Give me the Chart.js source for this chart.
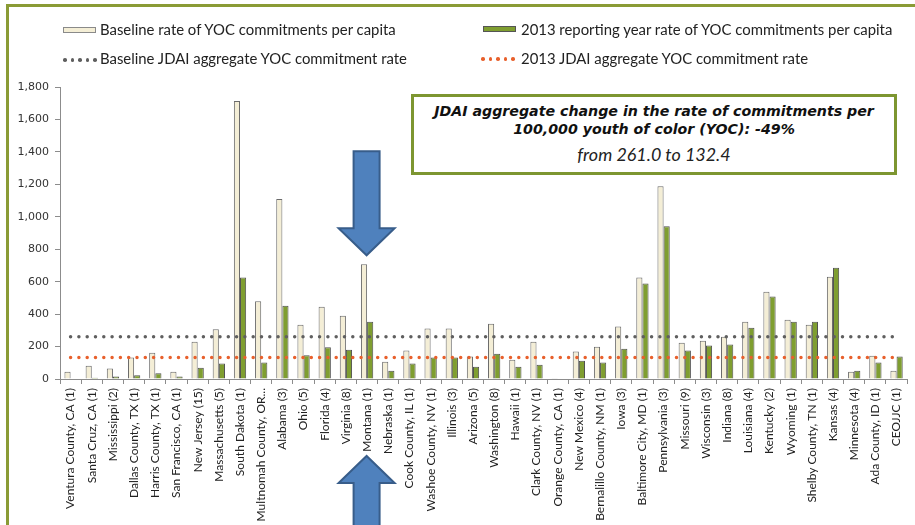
<!DOCTYPE html>
<html>
<head>
<meta charset="utf-8">
<script src="https://cdn.jsdelivr.net/npm/chart.js@4.4.1/dist/chart.umd.min.js"></script>
<style>
  html, body { margin: 0; padding: 0; background: #fff; }
  body { width: 915px; height: 525px; position: relative; overflow: hidden; font-family: Lato, "Open Sans", sans-serif; }
  #frame { position: absolute; left: 6px; top: 4px; width: 1200px; height: 1200px; border: 3px solid #8A9B35; box-sizing: border-box; }
  #wrap { position: absolute; left: 0; top: 0; width: 915px; height: 525px; }
  .leg { position: absolute; font-size: 14.9px; color: #222; white-space: nowrap; line-height: 16px; }
  .sw { position: absolute; width: 33px; height: 6px; box-sizing: border-box; }
  .dots { position: absolute; display: flex; gap: 4px; }
  .dots span { width: 3.5px; height: 3.5px; border-radius: 50%; display: block; }
  #note { position: absolute; left: 411px; top: 94px; width: 486px; height: 81px; border: 3px solid #7D9631; box-sizing: border-box; background: #fff; text-align: center; color: #111; }
  #note .l1 { position: absolute; left: 0; right: 0; top: 5px; font-family: "DejaVu Sans", Verdana, sans-serif; font-weight: bold; font-style: italic; font-size: 14.2px; line-height: 18px; }
  #note .l2 { position: absolute; left: 0; right: 0; top: 47px; font-family: Lato, sans-serif; font-style: italic; font-size: 17.9px; line-height: 20px; color: #222; }
</style>
</head>
<body>
<div id="frame"></div>
<div id="wrap"><canvas id="c" width="915" height="525"></canvas></div>

<div class="sw" style="left:63px; top:27px; background:#F4EED6; border:1px solid #8a8a8a;"></div>
<div class="leg" style="left:100px; top:21px;">Baseline rate of YOC commitments per capita</div>
<div class="sw" style="left:483px; top:26px; background:#7F9E30; border:1px solid #555;"></div>
<div class="leg" style="left:521px; top:21px;">2013 reporting year rate of YOC commitments per capita</div>

<div class="dots" style="left:63px; top:58px;"><span style="background:#5f5f5f"></span><span style="background:#5f5f5f"></span><span style="background:#5f5f5f"></span><span style="background:#5f5f5f"></span><span style="background:#5f5f5f"></span></div>
<div class="leg" style="left:100px; top:50px;">Baseline JDAI aggregate YOC commitment rate</div>
<div class="dots" style="left:481px; top:57px;"><span style="background:#E8602C"></span><span style="background:#E8602C"></span><span style="background:#E8602C"></span><span style="background:#E8602C"></span><span style="background:#E8602C"></span></div>
<div class="leg" style="left:521px; top:50px;">2013 JDAI aggregate YOC commitment rate</div>

<div id="note">
  <div class="l1">JDAI aggregate change in the rate of commitments per<br>100,000 youth of color (YOC): -49%</div>
  <div class="l2">from 261.0 to 132.4</div>
</div>

<script>
const categories = [
  "Ventura County, CA (1)", "Santa Cruz, CA (1)", "Mississippi (2)", "Dallas County, TX (1)",
  "Harris County, TX (1)", "San Francisco, CA (1)", "New Jersey (15)", "Massachusetts (5)",
  "South Dakota (1)", "Multnomah County, OR...", "Alabama (3)", "Ohio (5)", "Florida (4)",
  "Virginia (8)", "Montana (1)", "Nebraska (1)", "Cook County, IL (1)", "Washoe County, NV (1)",
  "Illinois (3)", "Arizona (5)", "Washington (8)", "Hawaii (1)", "Clark County, NV (1)",
  "Orange County, CA (1)", "New Mexico (4)", "Bernalillo County, NM (1)", "Iowa (3)",
  "Baltimore City, MD (1)", "Pennsylvania (3)", "Missouri (9)", "Wisconsin (3)", "Indiana (8)",
  "Louisiana (4)", "Kentucky (2)", "Wyoming (1)", "Shelby County, TN (1)", "Kansas (4)",
  "Minnesota (4)", "Ada County, ID (1)", "CEOJJC (1)"
];
const baselineRates = [45, 82, 64, 132, 162, 45, 230, 306, 1714, 479, 1110, 335, 446, 390, 707, 107, 175, 312, 312, 138, 341, 119, 230, 4, 169, 199, 323, 625, 1188, 224, 236, 261, 353, 538, 366, 335, 631, 45, 144, 51];
const rates2013 = [0, 8, 16, 23, 35, 16, 70, 95, 625, 101, 452, 146, 195, 181, 353, 51, 95, 132, 132, 76, 156, 76, 88, 3, 113, 101, 187, 588, 941, 175, 206, 212, 316, 508, 353, 353, 686, 51, 101, 138];
const baselineAggregate = 261.0;
const aggregate2013 = 132.4;
const yTicks = [0, 200, 400, 600, 800, 1000, 1200, 1400, 1600, 1800];
const highlightCategory = "Montana (1)";

const arrowPlugin = {
  id: 'arrows',
  afterDraw(chart) {
    const ctx = chart.ctx;
    const xs = chart.scales.x, ys = chart.scales.y;
    const idx = categories.indexOf(highlightCategory);
    const xc = xs.getPixelForValue(idx) - 0.5;
    const barTop = ys.getPixelForValue(baselineRates[idx]);
    const shaftHalf = 13, headHalf = 28, headH = 27;
    ctx.save();
    ctx.fillStyle = '#4F81BD';
    ctx.strokeStyle = '#385D8A';
    ctx.lineWidth = 2;
    ctx.lineJoin = 'miter';
    let tip = barTop - 9;
    let base = tip - headH;
    let top = base - 77;
    ctx.beginPath();
    ctx.moveTo(xc - shaftHalf, top);
    ctx.lineTo(xc + shaftHalf, top);
    ctx.lineTo(xc + shaftHalf, base);
    ctx.lineTo(xc + headHalf, base);
    ctx.lineTo(xc, tip);
    ctx.lineTo(xc - headHalf, base);
    ctx.lineTo(xc - shaftHalf, base);
    ctx.closePath();
    ctx.fill(); ctx.stroke();
    tip = chart.chartArea.bottom + 77;
    base = tip + headH;
    const bottom = chart.height + 10;
    ctx.beginPath();
    ctx.moveTo(xc - shaftHalf, bottom);
    ctx.lineTo(xc + shaftHalf, bottom);
    ctx.lineTo(xc + shaftHalf, base);
    ctx.lineTo(xc + headHalf, base);
    ctx.lineTo(xc, tip);
    ctx.lineTo(xc - headHalf, base);
    ctx.lineTo(xc - shaftHalf, base);
    ctx.closePath();
    ctx.fill(); ctx.stroke();
    ctx.restore();
  }
};

new Chart(document.getElementById('c'), {
  type: 'bar',
  data: {
    labels: categories,
    datasets: [
      {
        type: 'line', label: 'Baseline JDAI aggregate YOC commitment rate',
        data: categories.map(() => baselineAggregate),
        borderColor: '#5f5f5f', borderWidth: 3.5, borderDash: [0, 8.3], borderCapStyle: 'round',
        pointRadius: 0, fill: false, order: 0
      },
      {
        type: 'line', label: '2013 JDAI aggregate YOC commitment rate',
        data: categories.map(() => aggregate2013),
        borderColor: '#E8602C', borderWidth: 3.5, borderDash: [0, 8.3], borderCapStyle: 'round',
        pointRadius: 0, fill: false, order: 0
      },
      {
        label: 'Baseline rate of YOC commitments per capita',
        data: baselineRates,
        backgroundColor: '#F4EED6', borderColor: '#6a6a6a', borderWidth: 1,
        categoryPercentage: 0.58, barPercentage: 1.0, order: 1
      },
      {
        label: '2013 reporting year rate of YOC commitments per capita',
        data: rates2013,
        backgroundColor: '#7F9E30', borderColor: '#505050', borderWidth: 1,
        categoryPercentage: 0.58, barPercentage: 1.0, order: 1
      }
    ]
  },
  options: {
    responsive: false,
    animation: false,
    events: [],
    layout: { padding: { left: 10, right: 3, top: 87, bottom: 0 } },
    plugins: { legend: { display: false }, tooltip: { enabled: false } },
    scales: {
      x: {
        offset: true,
        afterFit(s) { s.height = 146; },
        grid: { display: true, drawOnChartArea: false, drawTicks: true, tickLength: 5, color: '#8c8c8c', offset: true },
        border: { display: true, color: '#8c8c8c' },
        ticks: {
          autoSkip: false, minRotation: 90, maxRotation: 90, padding: 4,
          color: '#222', font: { family: 'Lato', size: 12 }
        }
      },
      y: {
        min: 0, max: 1800,
        afterFit(s) { s.width = 50; },
        afterBuildTicks(s) { s.ticks = yTicks.map(v => ({ value: v })); },
        grid: { display: true, drawOnChartArea: false, drawTicks: true, tickLength: 5, color: '#8c8c8c' },
        border: { display: true, color: '#8c8c8c' },
        ticks: {
          padding: 6, color: '#333',
          font: { family: 'DejaVu Sans', size: 11 },
          callback: v => Number(v).toLocaleString('en-US')
        }
      }
    }
  },
  plugins: [arrowPlugin]
});
</script>
</body>
</html>
